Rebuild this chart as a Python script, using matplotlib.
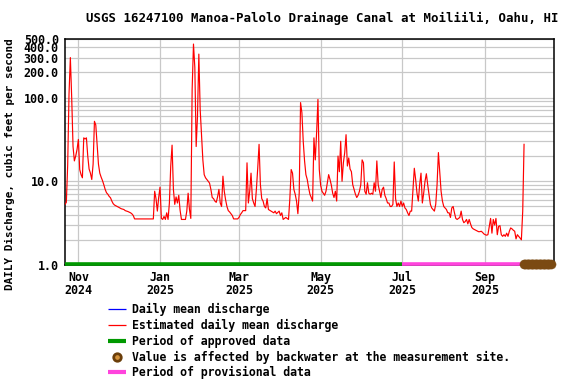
import matplotlib
matplotlib.use('Agg')
import matplotlib.pyplot as plt
import matplotlib.transforms as mtransforms
from matplotlib.ticker import FixedLocator, NullFormatter
from matplotlib.lines import Line2D
import pandas as pd

# ---------------- data ----------------
title = "USGS 16247100 Manoa-Palolo Drainage Canal at Moiliili, Oahu, HI"
y_label = "DAILY Discharge, cubic feet per second"
start_date = "2024-10-22"
end_date = "2025-10-22"

day_offsets = [
    0, 1, 2, 3, 4, 5, 6, 7, 8, 9, 10, 11, 12, 13, 14, 15, 16, 17, 18, 19,
    20, 21, 22, 23, 24, 25, 26, 27, 28, 29, 30, 31, 32, 33, 34, 35, 36, 37, 38, 40,
    42, 44, 45, 47, 49, 50, 51, 52, 66, 67, 68, 69, 70, 71, 72, 73, 74, 75, 76, 77,
    78, 79, 80, 81, 82, 83, 84, 85, 86, 87, 90, 91, 92, 93, 94, 95, 96, 97, 98, 99,
    100, 101, 102, 103, 104, 105, 106, 107, 108, 109, 110, 111, 112, 113, 114, 115, 116, 117, 118, 119,
    120, 121, 122, 123, 124, 125, 126, 129, 130, 131, 132, 133, 135, 136, 137, 138, 139, 140, 141, 142,
    143, 144, 145, 146, 147, 148, 149, 150, 151, 152, 154, 155, 156, 157, 158, 160, 161, 162, 163, 164,
    165, 167, 168, 169, 170, 171, 172, 173, 174, 175, 176, 177, 178, 179, 180, 181, 182, 183, 184, 185,
    186, 187, 188, 189, 190, 191, 192, 193, 194, 195, 196, 197, 198, 199, 200, 201, 202, 203, 204, 205,
    206, 207, 208, 209, 210, 211, 212, 213, 214, 215, 216, 217, 218, 219, 220, 221, 222, 223, 224, 225,
    226, 227, 228, 229, 230, 231, 232, 233, 234, 235, 236, 237, 238, 239, 240, 241, 242, 243, 244, 245,
    246, 247, 248, 249, 250, 251, 252, 253, 254, 255, 256, 257, 258, 259, 260, 261, 262, 263, 264, 265,
    266, 267, 268, 269, 270, 271, 272, 273, 274, 275, 276, 277, 278, 279, 280, 281, 282, 283, 284, 285,
    286, 287, 288, 289, 290, 291, 292, 293, 294, 295, 296, 297, 298, 299, 300, 301, 302, 303, 304, 305,
    306, 307, 308, 309, 310, 311, 312, 313, 314, 315, 316, 317, 318, 319, 320, 321, 322, 323, 324, 325,
    326, 327, 328, 329, 330, 331, 332, 333, 334, 335, 336, 337, 338, 339, 340, 341, 342, 343,
]
discharge_cfs = [
    5.3, 5.6, 15.5, 110, 300, 100, 26, 17.5, 20, 24, 31.6, 13.8, 12, 11, 33, 32, 33, 20, 14, 12.5,
    10.5, 16, 52, 47, 27.6, 16, 12.5, 11.2, 10.2, 9.1, 8.0, 7.3, 7.0, 6.6, 6.35, 5.8, 5.4, 5.2, 5.1, 4.9,
    4.7, 4.6, 4.46, 4.35, 4.2, 4.08, 3.9, 3.55, 3.55, 7.6, 6.2, 4.4, 6.4, 8.5, 3.6, 3.5, 3.8, 3.5, 4.2, 3.5,
    5.5, 15.2, 27, 8, 5.3, 6.5, 5.5, 6.8, 4.5, 3.5, 3.5, 4.4, 7.2, 4.6, 3.6, 125, 435, 230, 26, 60,
    330, 72, 36, 18, 12, 11, 10.5, 10, 9.5, 8, 6.4, 6.2, 5.8, 5.6, 6.5, 8, 5.5, 5.0, 11.5, 7.6,
    6.0, 5.0, 4.46, 4.3, 4.1, 3.9, 3.55, 3.55, 3.7, 4.0, 4.2, 4.46, 4.46, 16.6, 5.5, 7.6, 12.5, 6.2, 5.5, 5.0,
    8, 14.3, 27.6, 9.1, 6.2, 5.8, 5.0, 4.8, 6.2, 4.6, 4.4, 4.3, 4.2, 4.4, 4.1, 4.4, 3.9, 4.2, 3.5, 3.6,
    3.7, 3.5, 6.2, 13.8, 12.5, 8, 7, 5.8, 4.1, 7.2, 87, 66, 30, 17.5, 12, 10.5, 8.4, 7, 6.4, 5.8,
    33, 18, 38, 95, 13.8, 9, 7.6, 7.2, 6.8, 7.6, 9.6, 12, 10.5, 9, 7.2, 6.4, 7.6, 5.8, 20, 13,
    30, 10, 16.6, 22, 36, 15.2, 19, 14, 13, 9.1, 8, 7, 6.4, 6.8, 7.6, 9.1, 18, 16.6, 7.6, 7,
    9.6, 7.2, 7, 7.2, 7, 9.6, 7.6, 17.5, 9.1, 7.6, 6.4, 8, 8.5, 6.8, 6.2, 5.5, 5.5, 5.0, 5.0, 5.3,
    17, 6.2, 5.0, 5.5, 5.0, 5.8, 5.0, 5.5, 4.8, 4.6, 4.2, 3.9, 4.4, 4.4, 8, 14.3, 10.5, 7.2, 5.8, 9.1,
    12.5, 5.5, 7.2, 10, 12.3, 9.1, 7, 5.3, 4.8, 4.6, 4.4, 5.3, 9.1, 22, 13, 7.6, 5.8, 5.0, 4.8, 4.6,
    4.2, 4.2, 3.7, 4.8, 5.0, 4.2, 3.6, 3.5, 3.6, 3.7, 4.4, 3.5, 3.2, 3.3, 3.5, 3.1, 3.5, 3.1, 2.8, 2.7,
    2.65, 2.6, 2.55, 2.5, 2.5, 2.53, 2.45, 2.35, 2.3, 2.27, 2.3, 2.9, 3.6, 2.4, 3.5, 3.0, 3.6, 2.3, 2.9, 2.95,
    2.3, 2.2, 2.3, 2.2, 2.4, 2.2, 2.53, 2.77, 2.7, 2.6, 2.53, 2.05, 2.3, 2.2, 2.1, 2.0, 4.4, 27.6,
]

approved_period = ("2024-10-22", "2025-07-01")
provisional_period = ("2025-07-01", "2025-10-22")
backwater_dates = pd.date_range("2025-09-30", "2025-10-20", freq="D")

y_ticks = [1, 10, 100, 200, 300, 400, 500]
y_tick_labels = ["1.0", "10.0", "100.0", "200.0", "300.0", "400.0", "500.0"]
x_tick_dates = ["2024-11-01", "2025-01-01", "2025-03-01", "2025-05-01", "2025-07-01", "2025-09-01"]
x_tick_labels = ["Nov\n2024", "Jan\n2025", "Mar\n2025", "May\n2025", "Jul\n2025", "Sep\n2025"]

legend_labels = [
    "Daily mean discharge",
    "Estimated daily mean discharge",
    "Period of approved data",
    "Value is affected by backwater at the measurement site.",
    "Period of provisional data",
]

# ---------------- plot ----------------
W, H = 576, 384
fig = plt.figure(figsize=(W / 100, H / 100), dpi=100)
ax = fig.add_axes([65 / W, 1 - 265 / H, 488.5 / W, 226 / H])

mono = "DejaVu Sans Mono"
dates = pd.Timestamp(start_date) + pd.to_timedelta(day_offsets, unit="D")

ax.set_yscale("log")
ax.set_ylim(1, 500)
ax.set_xlim(pd.Timestamp(start_date), pd.Timestamp(end_date))

# grid
grid_c = "#c8c8c8"
minor_vals = [v * 10 ** e for e in range(0, 3) for v in range(2, 10) if v * 10 ** e < 500]
ax.yaxis.set_major_locator(FixedLocator(y_ticks))
ax.yaxis.set_minor_locator(FixedLocator(minor_vals))
ax.yaxis.set_minor_formatter(NullFormatter())
ax.set_yticklabels(y_tick_labels)
ax.set_xticks(pd.to_datetime(x_tick_dates))
ax.set_xticklabels(x_tick_labels)
ax.grid(True, which="both", axis="y", color=grid_c, lw=0.9, zorder=0)
ax.grid(True, which="major", axis="x", color=grid_c, lw=0.9, zorder=0)
ax.set_axisbelow(True)

ax.tick_params(axis="both", which="both", length=0)
ax.tick_params(axis="y", pad=4.5)
ax.tick_params(axis="x", pad=4)
for lab in ax.get_xticklabels() + ax.get_yticklabels():
    lab.set_fontfamily(mono)
    lab.set_fontweight("bold")
    lab.set_fontsize(8.4)
for lab in ax.get_xticklabels():
    lab.set_linespacing(1.05)

for s in ax.spines.values():
    s.set_linewidth(1.1)
    s.set_color("black")
    s.set_zorder(2)

# data
ax.plot(dates, discharge_cfs, color="#ff0000", lw=0.85, zorder=4)

# period bars along bottom
up = mtransforms.ScaledTranslation(0, 1.5 / 100, fig.dpi_scale_trans)
tr = ax.transData + up
ax.plot(pd.to_datetime(list(approved_period)), [1, 1], color="#009900", lw=2.6,
        solid_capstyle="butt", clip_on=False, transform=tr, zorder=5)
ax.plot(pd.to_datetime(list(provisional_period)), [1, 1], color="#ff44dd", lw=2.6,
        solid_capstyle="butt", clip_on=False, transform=tr, zorder=5)
ax.plot(backwater_dates, [1] * len(backwater_dates), linestyle="none", marker="o",
        ms=6.6, mfc="#7b4a12", mec="#7b4a12", mew=0.3, clip_on=False, transform=tr, zorder=6)

# texts
fig.text(322 / W, 1 - 18 / H, title, ha="center", va="center",
         fontfamily=mono, fontweight="bold", fontsize=8.9)
fig.text(10 / W, 1 - 164 / H, y_label, ha="center", va="center", rotation=90,
         fontfamily=mono, fontweight="bold", fontsize=7.9)

# legend (manual)
rows_y = [309, 325, 341, 357, 372]
hx0, hx1, tx = 108, 126, 131.5
handles = [
    dict(color="#0000ff", lw=0.9),
    dict(color="#ff0000", lw=0.9),
    dict(color="#009900", lw=3.0),
    None,
    dict(color="#ff44dd", lw=3.0),
]
for yy, lab, h in zip(rows_y, legend_labels, handles):
    fy = 1 - yy / H
    if h is None:
        fig.add_artist(Line2D([(hx0 + hx1) / 2 / W], [fy], marker="o", ms=5.4,
                              mfc="#d4923a", mec="#6b3e0a", mew=2.0, linestyle="none"))
    else:
        fig.add_artist(Line2D([hx0 / W, hx1 / W], [fy, fy], solid_capstyle="butt", **h))
    fig.text(tx / W, fy, lab, ha="left", va="center", fontfamily=mono,
             fontweight="bold", fontsize=8.3)

fig.savefig("out.png", dpi=100)
